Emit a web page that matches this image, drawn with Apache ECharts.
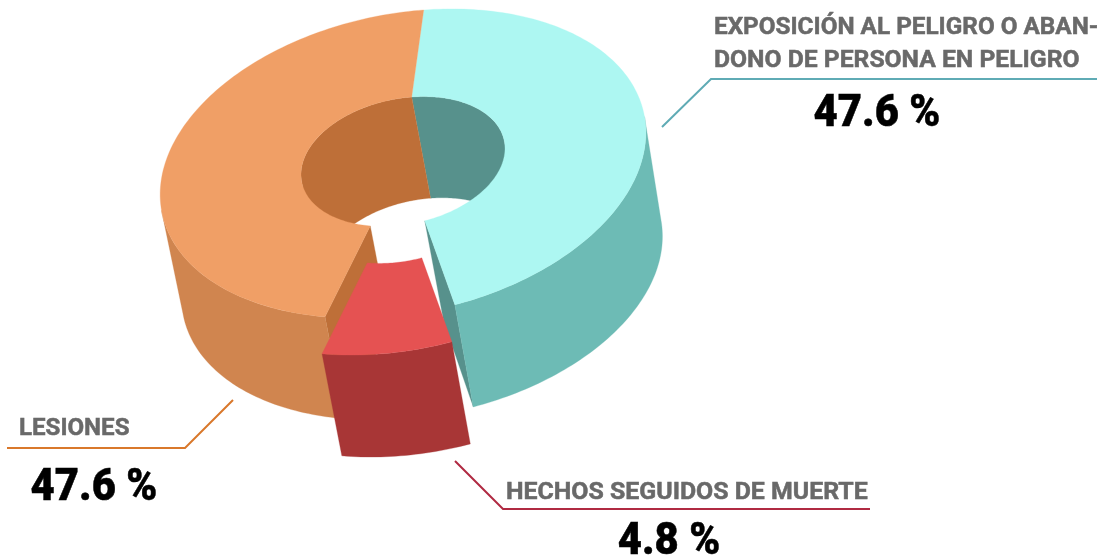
<!DOCTYPE html>
<html><head><meta charset="utf-8">
<style>html,body{margin:0;padding:0;background:#fff}#c{width:1097px;height:558px}</style>
<script src="https://cdn.jsdelivr.net/npm/echarts@6/dist/echarts.min.js"></script>
</head><body><div id="c"></div>
<script>
// DATA
const categories = ['EXPOSICIÓN AL PELIGRO O ABANDONO DE PERSONA EN PELIGRO', 'HECHOS SEGUIDOS DE MUERTE', 'LESIONES'];
const values = [47.6, 4.8, 47.6];
const exploded = [0, 1, 0];
const topColors = ['#ADF7F2', '#E55252', '#F09F66'];
const sideColors = ['#6DBBB5', '#A83636', '#D0854F'];
const innerColors = ['#57918C', '#A83636', '#BE6F38'];

// 3D projection of the ring
const G = {cx:403, cy:163.5, a:246, b:149.5, rot:-11.6*Math.PI/180, dx:19, dy:103.5, bottomScale:0.99,
           hole:0.42, holeDyTop:-2, holeDyBottom:-5, warp:0.8, skew:1.7, centerDeg:100.3, silhouetteDeg:1, explodeX:-3, explodeY:37};
const total = values.reduce((s,v)=>s+v,0);
const rad = Math.PI/180;
// slice angular ranges in projected degrees, data-driven
function warp(t){ return G.centerDeg + t + G.warp*Math.sin(t*rad)/rad + G.skew*(1-Math.cos(t*rad))/2; }
const ranges = (function(){
  const out=[]; let cum=0;
  const start = -(values[0]/total*360 + values[1]/total*180); // red slice centred on 0
  values.forEach(v=>{ const t0=start+cum/total*360; cum+=v; const t1=start+cum/total*360; out.push([warp(t0),warp(t1)]); });
  return out;
})();
function pt(phi,s,bottom,i){
  const c=Math.cos(phi*rad)*G.a, d=Math.sin(phi*rad)*G.b, cr=Math.cos(G.rot), sr=Math.sin(G.rot);
  const k=s*(bottom?G.bottomScale:1);
  const ex=exploded[i]?G.explodeX:0, ey=exploded[i]?G.explodeY:0;
  const hy=s<1?(bottom?G.holeDyBottom:G.holeDyTop):0;
  return [G.cx+(bottom?G.dx:0)+ex+k*(c*cr-d*sr), G.cy+(bottom?G.dy:0)+ey+hy+k*(c*sr+d*cr)];
}
function arc(p0,p1,s,bottom,i){
  const n=Math.max(2,Math.ceil(Math.abs(p1-p0)/1.2)), out=[];
  for(let j=0;j<=n;j++) out.push(pt(p0+(p1-p0)*j/n,s,bottom,i));
  return out;
}
function clip(r,lo,hi){
  const res=[];
  for(const k of [-360,0,360]){
    const a=Math.max(r[0],lo+k), b=Math.min(r[1],hi+k);
    if(b>a) res.push([a,b]);
  }
  return res;
}
function wall(r,s,i){ return arc(r[0],r[1],s,false,i).concat(arc(r[1],r[0],s,true,i)); }
function poly(points,fill){ return {type:'polygon',shape:{points},style:{fill,stroke:fill,lineWidth:0.3}}; }
const F=G.silhouetteDeg;
const layers = {
  innerWall:i=> exploded[i]?[]:clip(ranges[i],F+180,F+360).map(r=>poly(wall(r,G.hole,i),innerColors[i])),
  cutFace:i=> exploded[i]?[]:[i===0?ranges[i][1]:ranges[i][0]].map(p=>poly([pt(p,1,false,i),pt(p,G.hole,false,i),pt(p,G.hole,true,i),pt(p,1,true,i)],innerColors[i])),
  outerWall:i=> exploded[i]?[]:clip(ranges[i],F,F+180).map(r=>poly(wall(r,1,i),sideColors[i])),
  topFace:i=> exploded[i]?[]:[poly(arc(ranges[i][0],ranges[i][1],1,false,i).concat(arc(ranges[i][1],ranges[i][0],G.hole,false,i)),topColors[i])],
  explodedWall:i=> exploded[i]?clip(ranges[i],F,F+180).map(r=>poly(wall(r,1,i),sideColors[i])):[],
  explodedTop:i=> exploded[i]?[poly(arc(ranges[i][0],ranges[i][1],1,false,i).concat(arc(ranges[i][1],ranges[i][0],G.hole,false,i)),topColors[i])]:[]
};
const series = Object.keys(layers).map((name,z)=>({
  type:'custom', name, coordinateSystem:'none', silent:true, z:z+2, animation:false, clip:false,
  data: values.map((v,i)=>({name:categories[i],value:v})),
  renderItem:(p)=>({type:'group',children:layers[name](p.dataIndex)})
}));

const labelFont='700 24px Roboto,"Liberation Sans",sans-serif';
const valueFont='900 44px Roboto,"Liberation Sans",sans-serif';
const gray='#696969';
function txt(text,x,y,font,fill,align,sx){ return {type:'text',z:20,silent:true,x,y,scaleX:sx,scaleY:1,style:{text,x:0,y:0,font,fill,stroke:fill,lineWidth:0.5,textAlign:align||'left',textVerticalAlign:'bottom'}}; }
function line(points,stroke){ return {type:'polyline',z:20,silent:true,shape:{points},style:{stroke,lineWidth:2,fill:'none'}}; }
const val=0.95;
const chart=echarts.init(document.getElementById('c'),null,{renderer:'canvas'});
chart.setOption({
  animation:false,
  backgroundColor:'#fff',
  series,
  graphic:{elements:[
    txt('EXPOSICIÓN AL PELIGRO O ABAN-',714,40,labelFont,gray,'left',1.013),
    txt('DONO DE PERSONA EN PELIGRO',714,73,labelFont,gray,'left',1.029),
    line([[662,127],[711,79],[1097,79]],'#5FABB5'),
    txt('47.6 %',877,137,valueFont,'#000','center',val),
    txt('LESIONES',19,441,labelFont,gray,'left',1.004),
    line([[7,448],[185,448],[233,400]],'#D9782B'),
    txt('47.6 %',94,511,valueFont,'#000','center',val),
    txt('HECHOS SEGUIDOS DE MUERTE',506,505,labelFont,gray,'left',1.036),
    line([[455,461],[503,509],[870,509]],'#B02A42'),
    txt('4.8 %',669,565,valueFont,'#000','center',val)
  ]}
});
</script></body></html>
